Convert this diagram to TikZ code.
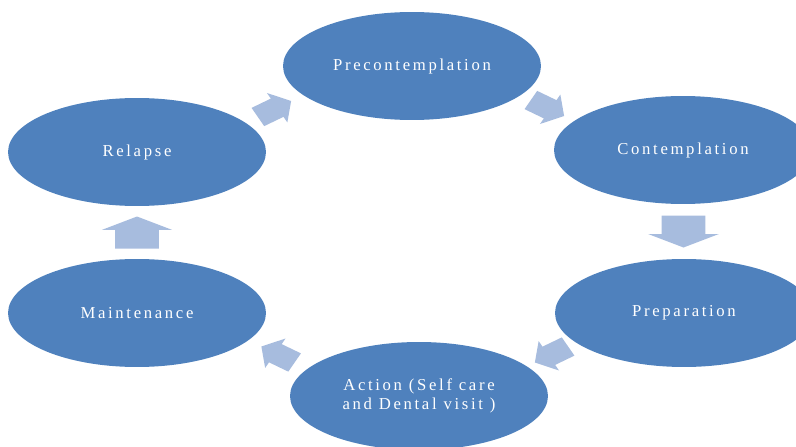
\documentclass[tikz,border=0pt]{standalone}
\usepackage{fontspec}
\setmainfont{Liberation Serif}
\newfontfamily\stagefont[LetterSpace=16]{Liberation Serif}
\usetikzlibrary{shapes.geometric,calc}
\definecolor{stageblue}{RGB}{79,129,189}
\definecolor{arrowblue}{RGB}{167,188,222}
\tikzset{
  stage/.style={ellipse,fill=stageblue,minimum width=5.16cm,minimum height=2.16cm,
    inner sep=0pt,text=white,align=center,font=\stagefont\fontsize{9.5}{11}\selectfont},
  % unit block arrow pointing along +x, sized by xscale/yscale
  cyclearrow/.pic={
    \fill[arrowblue] (-.5,-.31)--(.08,-.31)--(.08,-.5)--(.5,0)--(.08,.5)--(.08,.31)--(-.5,.31)--cycle;}
}
\begin{document}
\begin{tikzpicture}[x=.02cm,y=-.02cm]
  \path[use as bounding box] (0,0) rectangle (796,447);
  \node[stage] (pre) at (412,66) {Precontemplation};
  \node[stage] (cont) at (683,150) {Contemplation};
  \node[stage] (prep) at (684,313) {Preparation};
  \node[stage] (act) at (419,396) {Action (Self care\\and Dental visit )};
  \node[stage] (main) at (137,313) {Maintenance};
  \node[stage] (rel) at (137,152) {Relapse};
  % block arrows half way from one stage to the next, stretched sideways
  \foreach \a/\b/\ang/\len/\wid/\sx in {rel/pre/30/32/34/1.2,pre/cont/-30/32/34/1.2,
      cont/prep/-90/32/47/1.5,prep/act/210/32/34/1.2,act/main/150/32/34/1.2,main/rel/90/32/47/1.5}
    \path ($(\a)!.5!(\b)$) pic[xscale=\sx,rotate=\ang,xscale=\len,yscale=\wid] {cyclearrow};
\end{tikzpicture}
\end{document}
